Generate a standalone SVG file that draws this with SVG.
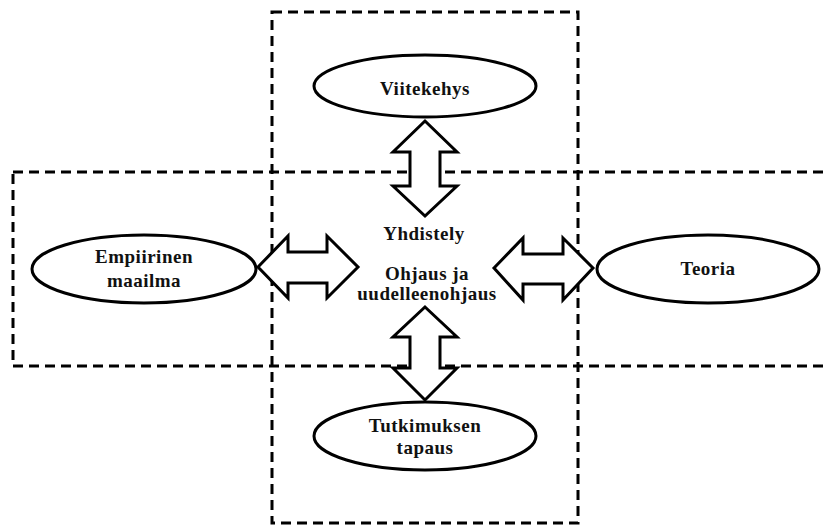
<svg xmlns="http://www.w3.org/2000/svg" width="827" height="526" viewBox="0 0 827 526">
<style>
.frame{fill:none;stroke:#000;stroke-width:3;stroke-dasharray:10 6}
.node{fill:#fff;stroke:#000;stroke-width:3}
.arr{fill:#fff;stroke:#000;stroke-width:3;stroke-linejoin:miter}
.t{font-family:'Liberation Serif','DejaVu Serif',serif;font-weight:bold;font-size:19px;letter-spacing:0.5px;text-anchor:middle;fill:#111}
</style>
<rect width="827" height="526" fill="#fff"/>
<g id="frames">
<rect class="frame" x="272" y="12" width="306" height="511"/>
<rect class="frame" x="13" y="172" width="820" height="194"/>
</g>
<g id="connectors">
<polygon class="arr" points="425,121 457,152 440,152 440,186 457,186 425,216 393,186 410,186 410,152 393,152"/>
<polygon class="arr" points="425,307 457,337 440,337 440,368 457,368 425,400 393,368 410,368 410,337 393,337"/>
<polygon class="arr" points="258,267 288,236 288,252 327,252 327,236 358,267 327,298 327,283 288,283 288,298"/>
<polygon class="arr" points="494,268 523,238 523,254 563,254 563,238 593,268 563,300 563,284 523,284 523,300"/>
</g>
<g id="viitekehys">
<ellipse class="node" cx="425" cy="86" rx="111" ry="31"/>
<text class="t" x="425" y="95">Viitekehys</text>
</g>
<g id="empiirinen">
<ellipse class="node" cx="144" cy="269" rx="112" ry="34"/>
<text class="t" x="144" y="263">Empiirinen</text>
<text class="t" x="144" y="287">maailma</text>
</g>
<g id="teoria">
<ellipse class="node" cx="708" cy="269" rx="111" ry="34"/>
<text class="t" x="708" y="275">Teoria</text>
</g>
<g id="tutkimus">
<ellipse class="node" cx="425" cy="436" rx="111" ry="34"/>
<text class="t" x="425" y="432">Tutkimuksen</text>
<text class="t" x="425" y="454">tapaus</text>
</g>
<g id="center">
<text class="t" x="424" y="240">Yhdistely</text>
<text class="t" x="427" y="280">Ohjaus ja</text>
<text class="t" x="427" y="300">uudelleenohjaus</text>
</g>
</svg>
